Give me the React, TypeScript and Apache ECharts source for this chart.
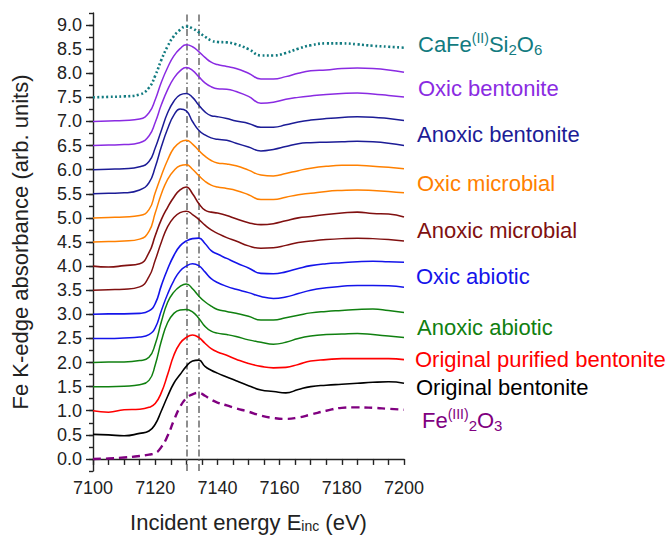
import React, { useEffect, useRef } from "react";
import * as echarts from "echarts";

// ---------- data ----------
const energies = [7100, 7105, 7110, 7115, 7118, 7120, 7122, 7124, 7126, 7128, 7130, 7132, 7134, 7136, 7138, 7140, 7143, 7146, 7150, 7154, 7158, 7162, 7166, 7170, 7175, 7180, 7185, 7190, 7195, 7200];

const caFeSi2O6 = [7.50, 7.51, 7.52, 7.56, 7.70, 7.95, 8.28, 8.56, 8.77, 8.90, 8.97, 8.93, 8.85, 8.76, 8.68, 8.65, 8.64, 8.60, 8.50, 8.37, 8.37, 8.42, 8.51, 8.58, 8.62, 8.62, 8.60, 8.57, 8.55, 8.53];
const oxicBentonite1 = [7.00, 7.01, 7.02, 7.05, 7.18, 7.45, 7.82, 8.12, 8.36, 8.51, 8.59, 8.55, 8.45, 8.33, 8.23, 8.18, 8.14, 8.10, 8.00, 7.88, 7.88, 7.93, 8.00, 8.05, 8.07, 8.10, 8.11, 8.10, 8.07, 8.02];
const oxicBentonite2 = [6.50, 6.51, 6.52, 6.56, 6.70, 6.98, 7.35, 7.66, 7.90, 8.05, 8.12, 8.06, 7.93, 7.80, 7.72, 7.68, 7.67, 7.62, 7.52, 7.38, 7.40, 7.46, 7.50, 7.53, 7.56, 7.58, 7.59, 7.57, 7.54, 7.51];
const anoxicBentonite1 = [6.00, 6.01, 6.02, 6.06, 6.17, 6.45, 6.82, 7.18, 7.42, 7.55, 7.58, 7.50, 7.34, 7.20, 7.12, 7.10, 7.06, 7.01, 6.96, 6.88, 6.88, 6.93, 6.99, 7.03, 7.06, 7.08, 7.10, 7.09, 7.06, 7.02];
const anoxicBentonite2 = [5.50, 5.51, 5.52, 5.58, 5.73, 6.05, 6.48, 6.85, 7.13, 7.26, 7.22, 7.00, 6.82, 6.72, 6.66, 6.63, 6.61, 6.55, 6.47, 6.39, 6.42, 6.48, 6.54, 6.56, 6.57, 6.58, 6.59, 6.58, 6.55, 6.50];
const oxicMicrobial1 = [5.00, 5.01, 5.02, 5.05, 5.17, 5.52, 5.88, 6.20, 6.45, 6.57, 6.61, 6.53, 6.40, 6.28, 6.19, 6.14, 6.12, 6.08, 5.99, 5.89, 5.87, 5.92, 5.98, 6.03, 6.07, 6.09, 6.09, 6.07, 6.05, 6.02];
const oxicMicrobial2 = [4.50, 4.51, 4.52, 4.56, 4.72, 5.10, 5.50, 5.80, 5.98, 6.08, 6.10, 6.01, 5.88, 5.76, 5.68, 5.64, 5.61, 5.57, 5.48, 5.38, 5.38, 5.43, 5.48, 5.51, 5.55, 5.57, 5.58, 5.57, 5.55, 5.52];
const anoxicMicrobial1 = [4.00, 3.98, 4.01, 4.05, 4.28, 4.63, 4.97, 5.22, 5.43, 5.58, 5.64, 5.50, 5.30, 5.16, 5.12, 5.10, 5.05, 4.98, 4.90, 4.86, 4.88, 4.94, 5.00, 5.03, 5.07, 5.10, 5.12, 5.09, 5.08, 5.02];
const anoxicMicrobial2 = [3.50, 3.51, 3.52, 3.57, 3.78, 4.12, 4.50, 4.82, 5.01, 5.11, 5.14, 5.07, 4.97, 4.85, 4.75, 4.68, 4.59, 4.52, 4.42, 4.37, 4.38, 4.43, 4.49, 4.52, 4.55, 4.57, 4.58, 4.57, 4.55, 4.52];
const oxicAbiotic1 = [3.00, 3.01, 3.01, 3.02, 3.07, 3.22, 3.60, 3.94, 4.22, 4.42, 4.52, 4.57, 4.58, 4.47, 4.32, 4.25, 4.16, 4.07, 3.96, 3.85, 3.84, 3.88, 3.95, 4.01, 4.05, 4.07, 4.09, 4.10, 4.09, 4.08];
const oxicAbiotic2 = [2.50, 2.50, 2.51, 2.53, 2.58, 2.72, 3.08, 3.42, 3.70, 3.90, 4.00, 4.05, 4.01, 3.88, 3.74, 3.66, 3.58, 3.52, 3.45, 3.37, 3.33, 3.36, 3.43, 3.50, 3.55, 3.58, 3.60, 3.60, 3.59, 3.56];
const anoxicAbiotic1 = [2.00, 2.01, 2.01, 2.04, 2.11, 2.38, 2.85, 3.25, 3.46, 3.58, 3.63, 3.53, 3.38, 3.26, 3.17, 3.10, 3.06, 3.02, 2.96, 2.88, 2.88, 2.93, 2.98, 3.03, 3.06, 3.08, 3.10, 3.11, 3.08, 3.04];
const anoxicAbiotic2 = [1.50, 1.50, 1.51, 1.54, 1.63, 1.95, 2.45, 2.83, 3.02, 3.09, 3.10, 3.05, 2.92, 2.75, 2.65, 2.61, 2.58, 2.54, 2.47, 2.42, 2.38, 2.42, 2.50, 2.55, 2.58, 2.59, 2.60, 2.58, 2.55, 2.52];
const originalPurified = [1.00, 0.97, 1.02, 1.03, 1.07, 1.15, 1.38, 1.75, 2.15, 2.40, 2.52, 2.57, 2.52, 2.40, 2.29, 2.22, 2.15, 2.07, 1.98, 1.92, 1.89, 1.90, 1.96, 2.03, 2.06, 2.08, 2.08, 2.08, 2.08, 2.06];
const originalBentonite = [0.51, 0.50, 0.48, 0.53, 0.58, 0.72, 1.00, 1.30, 1.57, 1.75, 1.92, 2.03, 2.05, 1.92, 1.84, 1.78, 1.70, 1.62, 1.52, 1.43, 1.40, 1.37, 1.44, 1.50, 1.53, 1.55, 1.57, 1.59, 1.60, 1.57];
const fe2O3 = [0.00, 0.01, 0.03, 0.06, 0.09, 0.12, 0.25, 0.48, 0.80, 1.08, 1.26, 1.34, 1.37, 1.31, 1.23, 1.17, 1.11, 1.05, 0.98, 0.90, 0.85, 0.83, 0.86, 0.92, 1.00, 1.06, 1.07, 1.06, 1.04, 1.02];

const referenceEnergies = [7130, 7134];
const xTickLabels = [7100, 7120, 7140, 7160, 7180, 7200];
const yTickLabels = [0, 0.5, 1, 1.5, 2, 2.5, 3, 3.5, 4, 4.5, 5, 5.5, 6, 6.5, 7, 7.5, 8, 8.5, 9];

const sampleLabels = [
  "{n|CaFe}{sup|(II)}{n|Si}{sub|2}{n|O}{sub|6}",
  "Oxic bentonite",
  "Anoxic bentonite",
  "Oxic microbial",
  "Anoxic microbial",
  "Oxic abiotic",
  "Anoxic abiotic",
  "Original purified bentonite",
  "Original bentonite",
  "{n|Fe}{sup|(III)}{sub|2}{n|O}{sub|3}",
];

// ---------- styles ----------
const FONT = '"Liberation Sans", Arial, Helvetica, sans-serif';
const COLORS = {
  teal: "#127b80",
  violet: "#8a2be2",
  navy: "#1c1c96",
  orange: "#ff8000",
  maroon: "#801010",
  blue: "#1414ea",
  green: "#108010",
  red: "#ff0000",
  black: "#000000",
  purple: "#800080",
};

const curves = [
  { values: caFeSi2O6, color: COLORS.teal, type: [2, 2.4] as any, width: 2.6 },
  { values: oxicBentonite1, color: COLORS.violet, type: "solid", width: 1.5 },
  { values: oxicBentonite2, color: COLORS.violet, type: "solid", width: 1.5 },
  { values: anoxicBentonite1, color: COLORS.navy, type: "solid", width: 1.5 },
  { values: anoxicBentonite2, color: COLORS.navy, type: "solid", width: 1.5 },
  { values: oxicMicrobial1, color: COLORS.orange, type: "solid", width: 1.5 },
  { values: oxicMicrobial2, color: COLORS.orange, type: "solid", width: 1.5 },
  { values: anoxicMicrobial1, color: COLORS.maroon, type: "solid", width: 1.6 },
  { values: anoxicMicrobial2, color: COLORS.maroon, type: "solid", width: 1.5 },
  { values: oxicAbiotic1, color: COLORS.blue, type: "solid", width: 1.6 },
  { values: oxicAbiotic2, color: COLORS.blue, type: "solid", width: 1.5 },
  { values: anoxicAbiotic1, color: COLORS.green, type: "solid", width: 1.5 },
  { values: anoxicAbiotic2, color: COLORS.green, type: "solid", width: 1.5 },
  { values: originalPurified, color: COLORS.red, type: "solid", width: 1.6 },
  { values: originalBentonite, color: COLORS.black, type: "solid", width: 1.6 },
  { values: fe2O3, color: COLORS.purple, type: [8, 5] as any, width: 2.4 },
];

const labelColors = [COLORS.teal, COLORS.violet, COLORS.navy, COLORS.orange, COLORS.maroon, COLORS.blue, COLORS.green, COLORS.red, COLORS.black, COLORS.purple];
const labelLayout = [
  { x: 418, y: 44 },
  { x: 418, y: 88 },
  { x: 417, y: 134 },
  { x: 417, y: 183 },
  { x: 417, y: 230 },
  { x: 416, y: 276 },
  { x: 417, y: 327 },
  { x: 415, y: 359 },
  { x: 416, y: 387 },
  { x: 422, y: 420 },
];

export default function App() {
  const ref = useRef<HTMLDivElement>(null);

  useEffect(() => {
    if (!ref.current) return;
    const chart = echarts.init(ref.current, null, { renderer: "svg" });

    const series: any[] = curves.map((c, idx) => ({
      type: "line",
      data: energies.map((e, i) => [e, c.values[i]]),
      symbol: "none",
      smooth: 0.5,
      silent: true,
      lineStyle: { color: c.color, width: c.width, type: c.type, cap: "butt", join: "round" },
      z: 3,
      ...(idx === 0
        ? {
            markLine: {
              silent: true,
              symbol: "none",
              label: { show: false },
              lineStyle: { color: "#6a6a6a", width: 1.5, type: [7, 3, 1.5, 3] },
              data: referenceEnergies.map((e) => ({ xAxis: e })),
              z: 2,
            },
          }
        : {}),
    }));

    const graphic = sampleLabels.map((t, i) => {
      const col = labelColors[i];
      return {
        type: "text",
        x: labelLayout[i].x,
        y: labelLayout[i].y,
        silent: true,
        style: {
          text: t,
          fill: col,
          font: `22px ${FONT}`,
          verticalAlign: "middle",
          align: "left",
          rich: {
            n: { fontSize: 22, fontFamily: FONT, fill: col, lineHeight: 26 },
            sup: { fontSize: 14, fontFamily: FONT, fill: col, lineHeight: 12, verticalAlign: "top" },
            sub: { fontSize: 15, fontFamily: FONT, fill: col, lineHeight: 12, verticalAlign: "bottom" },
          },
        },
      };
    });

    chart.setOption({
      animation: false,
      backgroundColor: "#ffffff",
      textStyle: { fontFamily: FONT },
      grid: { left: 93, right: 267, top: 13, bottom: 67, containLabel: false },
      xAxis: {
        type: "value",
        min: 7100,
        max: 7200,
        interval: 5,
        name: "Incident energy E{sub|inc} (eV)",
        nameLocation: "middle",
        nameGap: 40,
        nameTextStyle: {
          fontSize: 22,
          color: "#222",
          fontFamily: FONT,
          rich: {
            sub: { fontSize: 14, fontFamily: FONT, color: "#222", verticalAlign: "bottom", lineHeight: 14 },
          },
        },
        axisLine: { show: true, lineStyle: { color: "#222", width: 1.4 } },
        axisTick: { show: true, length: 6, inside: false, lineStyle: { color: "#222", width: 1.4 } },
        axisLabel: {
          customValues: xTickLabels,
          fontSize: 18,
          color: "#222",
          margin: 8,
          formatter: (v: number) => String(v),
        },
        splitLine: { show: false },
      },
      yAxis: [
        {
          type: "value",
          position: "left",
          min: -0.25,
          max: 9.25,
          interval: 0.25,
          axisLine: { show: true, lineStyle: { color: "#222", width: 1.4 } },
          axisTick: { show: true, length: 4, lineStyle: { color: "#222", width: 1.4 } },
          axisLabel: { show: false },
          splitLine: { show: false },
          name: "Fe K-edge absorbance (arb. units)",
          nameLocation: "middle",
          nameGap: 62,
          nameTextStyle: { fontSize: 22, color: "#222", fontFamily: FONT },
        },
        {
          type: "value",
          position: "left",
          min: -0.25,
          max: 9.25,
          interval: 0.25,
          axisLine: { show: false },
          axisTick: { show: true, length: 7, customValues: yTickLabels, lineStyle: { color: "#222", width: 1.4 } },
          axisLabel: {
            customValues: yTickLabels,
            fontSize: 18,
            color: "#222",
            margin: 11,
            formatter: (v: number) => v.toFixed(1),
          },
          splitLine: { show: false },
        },
      ],
      series,
      graphic,
    });

    return () => chart.dispose();
  }, []);

  return (
    <div
      ref={ref}
      style={{ position: "fixed", left: 0, top: 0, width: 671, height: 538, background: "#fff" }}
    />
  );
}
